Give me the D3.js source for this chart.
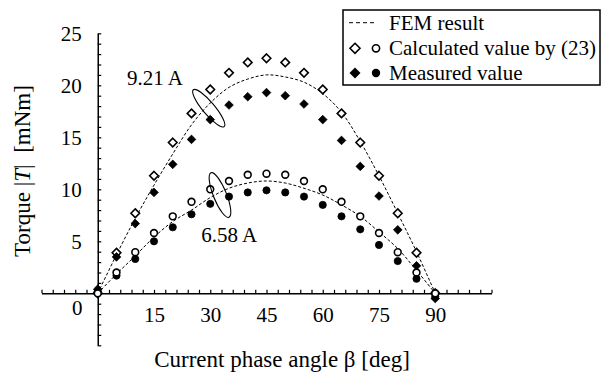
<!DOCTYPE html>
<html>
<head>
<meta charset="utf-8">
<script src="https://cdn.jsdelivr.net/npm/d3@7"></script>
<style>
  html, body { margin: 0; padding: 0; background: #fff; }
  svg { display: block; }
  text { font-family: "Liberation Serif", "Times New Roman", serif; fill: #000; }
</style>
</head>
<body>
<svg id="chart" width="603" height="374"></svg>
<script>
// ---- data ----
const angles = [0, 5, 10, 15, 20, 25, 30, 35, 40, 45, 50, 55, 60, 65, 70, 75, 80, 85, 90];
const fem921 = [0, 3.7, 7.2, 10.4, 13.4, 16.2, 18.3, 19.8, 20.6, 21.0, 20.8, 20.3, 19.2, 17.4, 14.6, 11.3, 7.7, 4.0, 0];
const calc921 = [0, 3.9, 7.7, 11.3, 14.5, 17.3, 19.6, 21.2, 22.2, 22.6, 22.2, 21.2, 19.6, 17.3, 14.5, 11.3, 7.7, 3.9, 0];
const meas921 = [0.4, 3.5, 6.7, 9.7, 12.4, 14.8, 16.7, 18.1, 18.9, 19.3, 19.0, 18.2, 16.7, 14.7, 12.2, 9.35, 6.1, 2.65, -0.5];
const fem658 = [0, 1.85, 3.6, 5.4, 6.9, 8.0, 9.2, 10.1, 10.6, 10.8, 10.6, 10.1, 9.45, 8.5, 7.4, 5.9, 4.3, 2.2, 0];
const calc658 = [0, 2.0, 3.95, 5.8, 7.4, 8.8, 10.0, 10.8, 11.4, 11.5, 11.4, 10.8, 10.0, 8.8, 7.4, 5.8, 3.95, 2.0, 0];
const meas658 = [0.2, 1.7, 3.3, 5.0, 6.35, 7.6, 8.6, 9.3, 9.7, 9.9, 9.7, 9.3, 8.5, 7.4, 6.15, 4.65, 3.1, 1.4, -0.3];
const xTickLabels = [15, 30, 45, 60, 75, 90];
const yTickLabels = [5, 10, 15, 20, 25];
const legendLabels = ["FEM result", "Calculated value by (23)", "Measured value"];
const currentLabels = ["9.21 A", "6.58 A"];

const SERIF = '"Liberation Serif", "Times New Roman", serif';

// ---- scales ----
const svg = d3.select("#chart");
const x = d3.scaleLinear().domain([-15, 105]).range([41.5, 491.5]);
const y = d3.scaleLinear().domain([-5, 25]).range([345.3, 33.3]);

// ---- axes ----
const yAxis = d3.axisLeft(y)
  .tickValues(d3.range(-5, 26, 1))
  .tickSizeInner(-3.5).tickSizeOuter(0)
  .tickPadding(16)
  .tickFormat(d => yTickLabels.includes(d) ? String(d) : "");
const gy = svg.append("g").attr("transform", `translate(${x(0)},0)`).call(yAxis);
gy.attr("font-family", SERIF).attr("font-size", 21);
gy.selectAll("text").attr("font-family", SERIF).style("font-size", "21px").attr("dy", "0.34em");

const xAxis = d3.axisBottom(x)
  .tickValues(d3.range(-15, 106, 3))
  .tickSizeInner(-3.5).tickSizeOuter(0)
  .tickPadding(14)
  .tickFormat(d => xTickLabels.includes(d) ? String(d) : "");
const gx = svg.append("g").attr("transform", `translate(0,${y(0)})`).call(xAxis);
gx.attr("font-family", SERIF).attr("font-size", 21);
gx.selectAll("text").attr("font-family", SERIF).style("font-size", "21px").attr("dy", "0.72em");

[gx, gy].forEach(g => {
  g.select(".domain").attr("stroke", "#000").attr("stroke-width", 1.5);
  g.selectAll(".tick line").attr("stroke", "#000").attr("stroke-width", 1.2);
});

// shared "0" label
svg.append("text").attr("x", x(-5.5)).attr("y", y(0) + 22)
  .attr("font-family", SERIF)
  .attr("text-anchor", "middle").style("font-size", "21px").text("0");

// axis titles
svg.append("text").attr("x", 282).attr("y", 367)
  .attr("font-family", SERIF)
  .attr("text-anchor", "middle").style("font-size", "23px")
  .text("Current phase angle \u03B2 [deg]");

const yt = svg.append("text").attr("transform", "translate(30,171) rotate(-90)")
  .attr("font-family", SERIF)
  .attr("text-anchor", "middle").style("font-size", "23px");
yt.append("tspan").text("Torque |");
yt.append("tspan").style("font-style", "italic").text("T");
yt.append("tspan").text("|\u00A0 [mNm]");

// ---- FEM curves ----
const line = d3.line().x((d, i) => x(angles[i])).y(d => y(d)).curve(d3.curveCatmullRom);
[fem921, fem658].forEach(s => {
  svg.append("path").attr("d", line(s)).attr("fill", "none")
    .attr("stroke", "#000").attr("stroke-width", 1).attr("stroke-dasharray", "3,2");
});

// ---- markers ----
const diamond = s => `M0,${-s}L${s},0L0,${s}L${-s},0Z`;
function diamonds(data, filled, s) {
  svg.append("g").selectAll("path").data(data).join("path")
    .attr("transform", (d, i) => `translate(${x(angles[i])},${y(d)})`)
    .attr("d", diamond(s))
    .attr("fill", filled ? "#000" : "#fff")
    .attr("stroke", "#000").attr("stroke-width", filled ? 0.8 : 1.6);
}
function circles(data, filled, r) {
  svg.append("g").selectAll("circle").data(data).join("circle")
    .attr("cx", (d, i) => x(angles[i])).attr("cy", d => y(d)).attr("r", r)
    .attr("fill", filled ? "#000" : "#fff")
    .attr("stroke", "#000").attr("stroke-width", filled ? 0.8 : 1.6);
}
diamonds(calc921, false, 4.3);
diamonds(meas921, true, 4.3);
circles(meas658, true, 3.6);
circles(calc658, false, 3.4);

// ---- annotations ----
svg.append("text").attr("x", x(7.8)).attr("y", 84.5).attr("font-family", SERIF)
  .style("font-size", "21px").text(currentLabels[0]);
svg.append("text").attr("x", x(27.6)).attr("y", 242).attr("font-family", SERIF)
  .style("font-size", "21px").text(currentLabels[1]);
svg.append("ellipse").attr("rx", 24).attr("ry", 6)
  .attr("transform", `translate(${x(29.6)},${y(17.8)}) rotate(50)`)
  .attr("fill", "none").attr("stroke", "#000").attr("stroke-width", 1.1);
svg.append("ellipse").attr("rx", 24).attr("ry", 6.5)
  .attr("transform", `translate(${x(32.6)},${y(9.45)}) rotate(68)`)
  .attr("fill", "none").attr("stroke", "#000").attr("stroke-width", 1.1);

// ---- legend ----
const lg = svg.append("g");
lg.append("rect").attr("x", 343).attr("y", 10).attr("width", 257).attr("height", 75)
  .attr("fill", "#fff").attr("stroke", "#000").attr("stroke-width", 1.5);
const rowsY = [22.7, 48.3, 73];
lg.append("line").attr("x1", 349).attr("x2", 377).attr("y1", rowsY[0]).attr("y2", rowsY[0])
  .attr("stroke", "#000").attr("stroke-width", 1).attr("stroke-dasharray", "4,3");
lg.append("path").attr("transform", `translate(355,${rowsY[1]})`).attr("d", diamond(5))
  .attr("fill", "#fff").attr("stroke", "#000").attr("stroke-width", 1.6);
lg.append("circle").attr("cx", 376).attr("cy", rowsY[1]).attr("r", 3.6)
  .attr("fill", "#fff").attr("stroke", "#000").attr("stroke-width", 1.6);
lg.append("path").attr("transform", `translate(355,${rowsY[2]})`).attr("d", diamond(5.5))
  .attr("fill", "#000");
lg.append("circle").attr("cx", 376).attr("cy", rowsY[2]).attr("r", 4.2).attr("fill", "#000");
legendLabels.forEach((t, i) => {
  lg.append("text").attr("x", 389).attr("y", rowsY[i] + 7).attr("font-family", SERIF)
    .style("font-size", "21px").text(t);
});
</script>
</body>
</html>
